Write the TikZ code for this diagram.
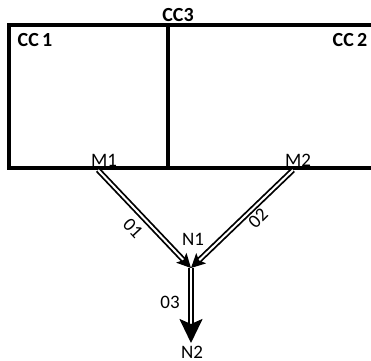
\documentclass[tikz,border=0pt]{standalone}
\usepackage{fontspec}
\setmainfont{Carlito}
\usetikzlibrary{arrows.meta}
\begin{document}
\begin{tikzpicture}[x=1pt,y=-1pt,
  wall/.style={line width=3.5pt},
  boxlabel/.style={font=\fontsize{20}{20}\selectfont\bfseries, inner sep=0pt},
  portlabel/.style={font=\fontsize{19}{19}\selectfont, inner sep=0pt},
  flow/.style={double, line width=1.8pt, double distance=2pt,
    -{Stealth[length=14pt, width=14pt, inset=3pt]}},
  outflow/.style={double, line width=2.4pt, double distance=1.8pt,
    -{Stealth[length=24pt, width=23pt, inset=5pt]}}]
  \useasboundingbox (0,0) rectangle (371,360);
  \begin{scope}
    \clip (0,0) rectangle (371,360);
    % the two compartments sharing a wall
    \draw[wall] (400,25) -- (9,25) -- (9,168) -- (400,168);
    \draw[wall] (168,25) -- (168,168);
  \end{scope}
  \node[boxlabel] (cc3) at (178,15) {CC3};
  \node[boxlabel] (cc1) at (35,40) {CC\,1};
  \node[boxlabel] (cc2) at (350,40) {CC\,2};
  \node[portlabel] (m1) at (104,160) {M1};
  \node[portlabel] (m2) at (298,160) {M2};
  \coordinate (p1) at (98,170);
  \coordinate (p2) at (293,170);
  \coordinate (n1pt) at (191,268);
  \coordinate (n2pt) at (191,343);
  \node[portlabel] (n1) at (193,239) {N1};
  \node[portlabel] (n2) at (192,352) {N2};
  % flows between the ports
  \draw[flow] (p1) -- (n1pt);
  \draw[flow] (p2) -- (n1pt);
  \node[portlabel, rotate=-47] (o1) at (133,228) {01};
  \node[portlabel, rotate=45] (o2) at (258,218) {02};
  \draw[outflow] (n1pt) -- (n2pt);
  \node[portlabel] (o3) at (170,302) {03};
\end{tikzpicture}
\end{document}
